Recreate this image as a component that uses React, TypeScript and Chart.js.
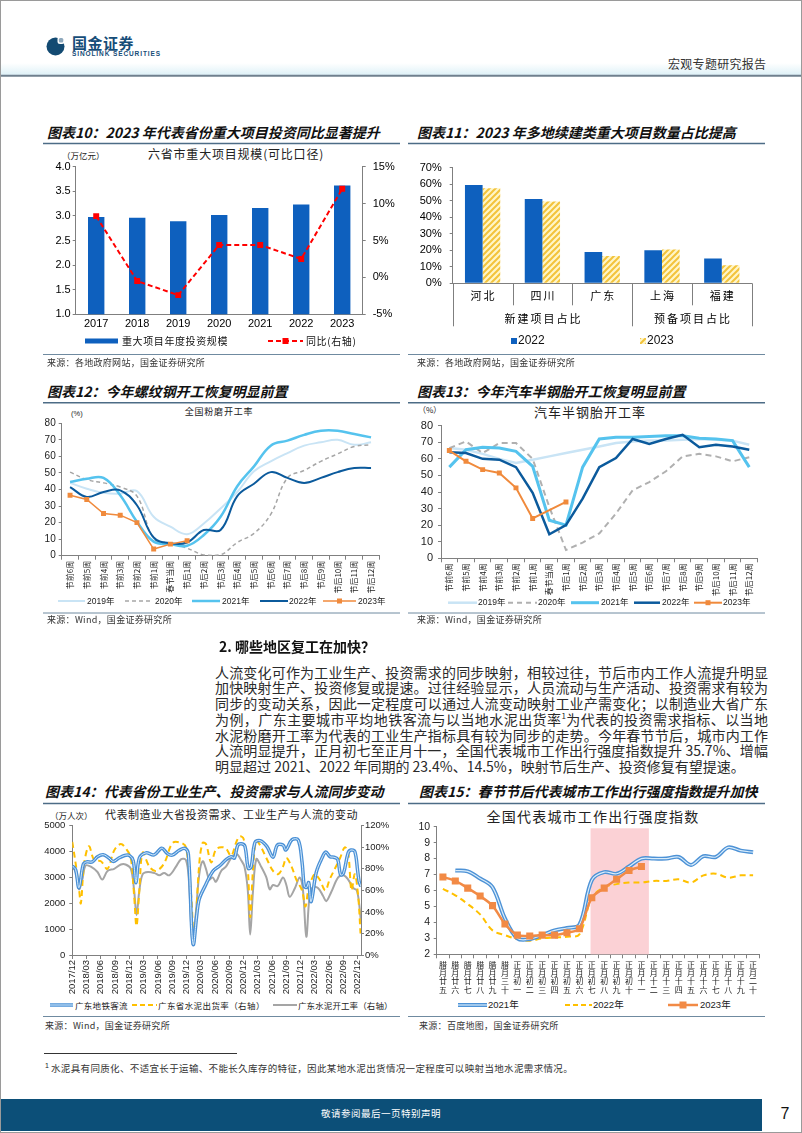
import React, { useEffect, useRef } from 'react';
import { Chart, registerables } from 'chart.js';

Chart.register(...registerables);

const CJK = '"Noto Sans CJK SC", "Noto Sans", sans-serif';
const LAT = '"Liberation Sans", Arial, "Noto Sans CJK SC", sans-serif';

// ---------------- Chart 10 data ----------------
const c10Years = ['2017', '2018', '2019', '2020', '2021', '2022', '2023'];
const c10Scale = [2.98, 2.96, 2.89, 3.02, 3.16, 3.23, 3.62];
const c10Yoy = [8.3, -0.5, -2.4, 4.4, 4.4, 2.5, 12.0];

// ---------------- Chart 11 data ----------------
const c11Regions = ['河北', '四川', '广东', '上海', '福建'];
const c11Groups = ['新建项目占比', '预备项目占比'];
const c11GroupSizes = [3, 2];
const c11Y2022 = [59.5, 51, 19, 20, 15];
const c11Y2023 = [57.5, 49.5, 16.5, 20.5, 11];

// ---------------- Chart 12 / 13 data ----------------
const weekLabels = ['节前6周', '节前5周', '节前4周', '节前3周', '节前2周', '节前1周', '春节当周', '节后1周', '节后2周', '节后3周', '节后4周', '节后5周', '节后6周', '节后7周', '节后8周', '节后9周', '节后10周', '节后11周', '节后12周'];
const c12_2019 = [44, 40.5, 38, 37.5, 39, 23.5, 17.5, 13, 19.5, 28.5, 38.5, 51, 57, 62, 66.5, 68.5, 70, 67, 68.5];
const c12_2020 = [50.5, 46, 44, 41.5, 36, 10.5, 7.5, 4.5, 0.5, 0.5, 8, 13.5, 25, 47, 51.5, 57, 61.5, 66, 67];
const c12_2021 = [44.5, 46.5, 47, 36.5, 20.5, 8.5, 7, 6, 12.5, 23.5, 42, 54, 66.5, 69.5, 73, 75.5, 75.5, 73.5, 71.5];
const c12_2022 = [41.5, 35.5, 38.5, 39.5, 30.5, 11, 7.5, 8, 15.5, 15.5, 36, 43.5, 50.5, 47, 44, 47, 50.5, 53, 53];
const c12_2023 = [36.5, 34, 25.5, 24.5, 20, 4, 7, 9];

const c13_2019 = [66.5, 65.5, 63, 60, 57.5, 59.5, 61.5, 63.5, 65.5, 67.5, 69.5, 70.5, 71, 71, 71.5, 72, 71.5, 71, 68.5];
const c13_2020 = [66.5, 70.5, 63.5, 69.5, 69.5, 60, 31, 5, 9.5, 15, 27, 41, 46, 52.5, 61.5, 63, 61.5, 58.5, 61];
const c13_2021 = [55, 65.5, 67, 66.5, 64.5, 55.5, 23, 20, 55, 72, 73, 73, 73.5, 74, 74, 72.5, 72, 71, 55];
const c13_2022 = [64, 63.5, 60, 59.5, 55, 39.5, 14.5, 20, 36, 55, 60.5, 72, 69, 72, 74.5, 67, 68.5, 67.5, 65.5];
const c13_2023 = [65, 58.5, 53.5, 51.5, 42.5, 24, null, 34];

// ---------------- Chart 14 data (x = months since 2017/12) ----------------
const c14TickMonths = [0, 3, 6, 9, 12, 15, 18, 21, 24, 27, 30, 33, 36, 39, 42, 45, 48, 51, 54, 57, 60];
const metroM = [0, 0.7, 1.4, 2.3, 3, 4.2, 5.3, 6.5, 7.7, 8.6, 9.8, 11, 12, 12.8, 13.4, 14.1, 15.5, 17.2, 18.8, 20, 21, 22.5, 23.7, 24.4, 25.4, 26.6, 28, 29.6, 31, 32.4, 33.4, 34.1, 34.8, 35.6, 36.3, 37, 37.6, 38.4, 39.5, 40.9, 42.2, 43.1, 44.3, 44.9, 46.2, 47.5, 48.3, 48.8, 49.3, 49.7, 50.2, 51.3, 52.5, 53.3, 54.2, 55, 55.8, 56.4, 57, 58, 58.6, 59.4, 60, 60.3, 60.7];
const metroV = [3450, 3300, 2600, 3500, 3600, 3600, 3800, 3880, 3750, 3620, 3750, 3850, 3850, 3650, 2800, 3750, 3950, 3870, 4130, 3920, 3860, 4050, 4120, 3900, 420, 2100, 2700, 3250, 3450, 3700, 3800, 3750, 4250, 4300, 4200, 3350, 3400, 4350, 4420, 4200, 3780, 4250, 4250, 4060, 4460, 4450, 3600, 2650, 2620, 2800, 2060, 3200, 3750, 3980, 3800, 3780, 3700, 3100, 3150, 3950, 4060, 4000, 3250, 2850, 2650];
const shipM = [0, 0.7, 1.4, 1.8, 2.5, 3.5, 4.6, 6, 7.4, 8.8, 10.2, 11.4, 12.3, 13, 13.5, 14.1, 14.8, 16.2, 17.6, 19.3, 21.1, 22.9, 23.9, 25, 25.6, 26.7, 27.4, 28.1, 29.2, 30.2, 31.3, 32.3, 33.4, 34.5, 35.2, 36, 36.9, 37.4, 38, 38.7, 39.7, 40.8, 42.2, 43.3, 44.3, 45, 46.1, 47.1, 48.3, 49, 49.6, 50.3, 51, 52, 53.2, 54.1, 55.2, 56.3, 57.3, 58, 58.7, 59.4, 60.1, 60.6];
const shipV = [105, 85, 62, 48, 85, 101, 88, 87, 80, 97, 103, 98, 90, 55, 27, 60, 95, 82, 78, 85, 104, 104, 100, 55, 12, 85, 104, 103, 86, 98, 100, 99, 92, 105, 110, 108, 80, 35, 80, 106, 100, 90, 78, 75, 82, 90, 82, 70, 60, 45, 60, 70, 75, 70, 60, 70, 80, 90, 100, 95, 60, 75, 55, 20];
const rateM = [0, 0.7, 1.4, 2.1, 2.8, 3.9, 5.3, 6.3, 7.4, 8.8, 10.2, 11.2, 12.3, 13, 13.5, 14.1, 14.8, 15.9, 17.3, 18.3, 19.3, 20.4, 21.8, 22.9, 23.9, 24.5, 25.3, 26, 26.7, 27.4, 28.1, 28.8, 29.5, 30.2, 31.3, 32.3, 33.4, 34.5, 35.5, 36.2, 36.9, 37.4, 38, 38.7, 39.7, 40.8, 41.5, 42.2, 43.2, 44.3, 45, 45.7, 46.8, 47.8, 48.5, 49.2, 49.9, 50.6, 51.7, 52.7, 53.4, 54.4, 55.9, 57, 58, 59.1, 59.8, 60.3, 60.7];
const rateV = [82, 77, 61, 70, 83, 82, 77, 70, 78, 80, 84, 84, 80, 60, 37, 60, 75, 77, 76, 74, 76, 74, 82, 89, 88, 70, 10, 40, 75, 87, 80, 70, 72, 68, 78, 82, 90, 94, 88, 82, 60, 19, 60, 89, 82, 72, 61, 65, 64, 72, 65, 54, 62, 72, 60, 17, 55, 63, 62, 55, 50, 58, 72, 74, 70, 62, 60, 48, 30];

// ---------------- Chart 15 data ----------------
const lunarDays = ['腊月廿五', '腊月廿六', '腊月廿七', '腊月廿八', '腊月廿九', '腊月三十', '正月初一', '正月初二', '正月初三', '正月初四', '正月初五', '正月初六', '正月初七', '正月初八', '正月初九', '正月初十', '正月十一', '正月十二', '正月十三', '正月十四', '正月十五', '正月十六', '正月十七', '正月十八', '正月十九', '正月二十'];
const c15_2021 = [null, 7.25, 7.2, 6.75, 6.2, 4.25, 3.0, 2.95, 3.2, 3.5, 3.65, 3.85, 6.65, 7.15, 7.05, 7.5, 8.0, 8.0, 8.0, 8.1, 7.6, 8.15, 8.1, 8.7, 8.5, 8.4];
const c15_2022 = [6.1, 5.7, 5.15, 4.5, 3.5, 3.2, 2.95, 2.85, 3.0, 3.05, 3.1, 3.25, 5.55, 6.2, 6.4, 6.5, 6.5, 6.6, 6.6, 6.7, 6.5, 6.95, 7.05, 6.8, 6.95, 6.95];
const c15_2023 = [6.85, 6.6, 6.15, 5.65, 5.05, 3.9, 3.2, 3.15, 3.2, 3.2, 3.35, 3.6, 5.55, 6.15, 6.7, 7.25, 7.5];
const c15BandRange = [11.9, 16.6];

// ---------------- helpers ----------------
const fixW = (w: number) => (s: any) => { s.width = w; };
const fixH = (h: number) => (s: any) => { s.height = h; };

const base = (padding: any) => ({
  responsive: false,
  animation: false,
  devicePixelRatio: 1,
  events: [],
  layout: { padding },
  plugins: { legend: { display: false }, tooltip: { enabled: false }, title: { display: false } },
});

const axisGrid = (color = '#808080', tickLength = 3, offset = false) => ({
  display: true, drawOnChartArea: false, tickLength, color, offset,
});

function ChartBox({ x, y, w, h, make }: { x: number; y: number; w: number; h: number; make: () => any }) {
  const ref = useRef<HTMLCanvasElement | null>(null);
  useEffect(() => {
    if (!ref.current) return;
    const chart = new Chart(ref.current, make());
    return () => chart.destroy();
  }, []);
  return (
    <div style={{ position: 'absolute', left: x, top: y, width: w, height: h }}>
      <canvas ref={ref} width={w} height={h} style={{ width: w, height: h, display: 'block' }} />
    </div>
  );
}

// ---------------- chart configs ----------------
function makeC10() {
  return {
    type: 'bar',
    data: {
      labels: c10Years,
      datasets: [
        {
          type: 'line', label: '同比(右轴)', data: c10Yoy, yAxisID: 'y1', borderColor: '#ff0000', backgroundColor: '#ff0000',
          borderWidth: 2, borderDash: [5, 3], pointStyle: 'rect', pointRadius: 4.2, pointBorderWidth: 0, tension: 0, order: 0,
        },
        {
          type: 'bar', label: '重大项目年度投资规模', data: c10Scale, yAxisID: 'y', backgroundColor: '#0e60be',
          barPercentage: 0.4, categoryPercentage: 1, order: 1,
        },
      ],
    },
    options: {
      ...base({ top: 16.7 }),
      scales: {
        x: {
          grid: { display: false, drawTicks: false, tickLength: 0 }, border: { color: '#7f7f7f' },
          ticks: { font: { family: LAT, size: 11 }, color: '#000', padding: 3 }, afterFit: fixH(20.7),
        },
        y: {
          position: 'left', min: 1, max: 4,
          ticks: { stepSize: 0.5, callback: (v: any) => Number(v).toFixed(1), font: { family: LAT, size: 11 }, color: '#000', padding: 2 },
          grid: axisGrid('#7f7f7f'), border: { color: '#7f7f7f' }, afterFit: fixW(32.7),
        },
        y1: {
          position: 'right', min: -5, max: 15,
          ticks: { stepSize: 5, callback: (v: any) => v + '%', font: { family: LAT, size: 11 }, color: '#000', padding: 7 },
          grid: axisGrid('#7f7f7f'), border: { color: '#7f7f7f' }, afterFit: fixW(37.3),
        },
      },
    },
  };
}

function makeHatch() {
  const c = document.createElement('canvas');
  c.width = 6; c.height = 6;
  const g = c.getContext('2d')!;
  g.fillStyle = '#fff6c8';
  g.fillRect(0, 0, 6, 6);
  g.strokeStyle = '#f3c33b';
  g.lineWidth = 2;
  g.beginPath();
  g.moveTo(0, 6); g.lineTo(6, 0);
  g.moveTo(-1, 1); g.lineTo(1, -1);
  g.moveTo(5, 7); g.lineTo(7, 5);
  g.stroke();
  return g.createPattern(c, 'repeat');
}

const c11AxisPlugin = {
  id: 'c11Axis',
  afterDraw(chart: any) {
    const { ctx, chartArea: a } = chart;
    const xs = chart.scales.x;
    const n = c11Regions.length;
    const w = (a.right - a.left) / n;
    const groupEdges = [0];
    c11GroupSizes.forEach((s) => groupEdges.push(groupEdges[groupEdges.length - 1] + s));
    ctx.save();
    ctx.strokeStyle = '#7f7f7f';
    ctx.lineWidth = 1;
    for (let i = 0; i <= n; i++) {
      const x = Math.round(a.left + i * w) + 0.5;
      const long = groupEdges.includes(i);
      ctx.beginPath();
      ctx.moveTo(x, a.bottom);
      ctx.lineTo(x, a.bottom + (long ? 43 : 22));
      ctx.stroke();
    }
    ctx.fillStyle = '#000';
    ctx.textAlign = 'center';
    ctx.textBaseline = 'middle';
    ctx.font = `11px ${CJK}`;
    try { (ctx as any).letterSpacing = '2px'; } catch (e) { /* ignore */ }
    c11Regions.forEach((r, i) => ctx.fillText(r, xs.getPixelForValue(i) + 1, a.bottom + 12.5));
    c11Groups.forEach((gname, gi) => {
      const mid = (groupEdges[gi] + groupEdges[gi + 1]) / 2;
      ctx.fillText(gname, a.left + mid * w + 1, a.bottom + 36);
    });
    ctx.restore();
  },
};

function makeC11() {
  return {
    type: 'bar',
    data: {
      labels: c11Regions,
      datasets: [
        { label: '2022', data: c11Y2022, backgroundColor: '#0e60be', categoryPercentage: 0.59, barPercentage: 1 },
        { label: '2023', data: c11Y2023, backgroundColor: makeHatch(), categoryPercentage: 0.59, barPercentage: 1 },
      ],
    },
    options: {
      ...base({ top: 17.7, right: 13.3, bottom: 48.7 }),
      scales: {
        x: { grid: { display: false, drawTicks: false }, border: { color: '#7f7f7f' }, ticks: { display: false }, afterFit: fixH(0) },
        y: {
          min: 0, max: 70,
          ticks: { stepSize: 10, callback: (v: any) => v + '%', font: { family: LAT, size: 11 }, color: '#000', padding: 8 },
          grid: axisGrid('#7f7f7f'), border: { color: '#7f7f7f' }, afterFit: fixW(44.7),
        },
      },
    },
    plugins: [c11AxisPlugin],
  };
}

const mkLine = (label: string, data: any[], color: string, width: number, extra: any = {}) => ({
  label, data, borderColor: color, backgroundColor: color, borderWidth: width, pointRadius: 0, tension: 0.4, ...extra,
});

function weekScales(yWidth: number, xHeight: number, yFont: number, yPad: number) {
  return {
    x: {
      offset: true,
      grid: axisGrid('#808080', 4, true), border: { color: '#808080' },
      ticks: { autoSkip: false, minRotation: 90, maxRotation: 90, font: { family: CJK, size: 8 }, color: '#222', padding: 1 },
      afterFit: fixH(xHeight),
    },
    y: {
      min: 0, max: 80,
      ticks: { stepSize: 10, font: { family: LAT, size: yFont }, color: '#222', padding: yPad },
      grid: axisGrid('#808080'), border: { color: '#808080' }, afterFit: fixW(yWidth),
    },
  };
}

function makeC12() {
  return {
    type: 'line',
    data: {
      labels: weekLabels,
      datasets: [
        mkLine('2023年', c12_2023, '#f08a3c', 1.5, { pointRadius: 3.5, pointStyle: 'rect', pointBorderWidth: 0, tension: 0, order: 0 }),
        mkLine('2022年', c12_2022, '#0b5a9c', 2, { order: 1 }),
        mkLine('2021年', c12_2021, '#55c3ee', 2.5, { order: 2 }),
        mkLine('2020年', c12_2020, '#a6a6a6', 1.5, { borderDash: [4, 3], order: 3 }),
        mkLine('2019年', c12_2019, '#c9e4f5', 2, { order: 4 }),
      ],
    },
    options: { ...base({ top: 13.3, right: 20.6 }), scales: weekScales(18.7, 44.3, 10, 3) },
  };
}

function makeC13() {
  return {
    type: 'line',
    data: {
      labels: weekLabels,
      datasets: [
        mkLine('2023年', c13_2023, '#f08a3c', 2, { pointRadius: 3.5, pointStyle: 'rect', pointBorderWidth: 0, tension: 0, spanGaps: true, order: 0 }),
        mkLine('2022年', c13_2022, '#0b5a9c', 2.5, { tension: 0, order: 1 }),
        mkLine('2021年', c13_2021, '#55c3ee', 3, { tension: 0, order: 2 }),
        mkLine('2020年', c13_2020, '#b0b0b0', 2, { borderDash: [6, 4], tension: 0, order: 3 }),
        mkLine('2019年', c13_2019, '#c9e4f5', 2.5, { tension: 0, order: 4 }),
      ],
    },
    options: { ...base({ top: 15.7, right: 7.4 }), scales: weekScales(33, 41.7, 11, 5) },
  };
}

const monthLabel = (m: number) => {
  const t = 11 + Math.round(m);
  const yr = 2017 + Math.floor(t / 12);
  const mo = (t % 12) + 1;
  return `${yr}/${mo < 10 ? '0' + mo : mo}`;
};

function makeC14() {
  const pts = (xs: number[], ys: number[]) => xs.map((x, i) => ({ x, y: ys[i] }));
  return {
    type: 'line',
    data: {
      datasets: [
        mkLine('广东地铁客流-inner', pts(metroM, metroV), '#d8ecfb', 1, { yAxisID: 'y', tension: 0.35, order: 0 }),
        mkLine('广东地铁客流', pts(metroM, metroV), '#4a90d6', 3.5, { yAxisID: 'y', tension: 0.35, order: 1 }),
        mkLine('广东省水泥出货率（右轴）', pts(shipM, shipV), '#ffc000', 2, { yAxisID: 'y1', borderDash: [6, 4], tension: 0.35, order: 2 }),
        mkLine('广东水泥开工率（右轴）', pts(rateM, rateV), '#a5a5a5', 2, { yAxisID: 'y1', tension: 0.35, order: 3 }),
      ],
    },
    options: {
      ...base({ top: 10.7 }),
      scales: {
        x: {
          type: 'linear', min: 0, max: 60.7,
          afterBuildTicks: (s: any) => { s.ticks = c14TickMonths.map((v) => ({ value: v })); },
          ticks: { autoSkip: false, minRotation: 90, maxRotation: 90, callback: (v: any) => monthLabel(Number(v)), font: { family: LAT, size: 9.5 }, color: '#222', padding: 1 },
          grid: axisGrid('#808080', 4), border: { color: '#808080' }, afterFit: fixH(40),
        },
        y: {
          position: 'left', min: 0, max: 5000,
          ticks: { stepSize: 500, callback: (v: any) => String(v), font: { family: LAT, size: 9.5 }, color: '#222', padding: 4 },
          grid: axisGrid('#808080'), border: { color: '#808080' }, afterFit: fixW(29.3),
        },
        y1: {
          position: 'right', min: 0, max: 120,
          ticks: { stepSize: 20, callback: (v: any) => v + '%', font: { family: LAT, size: 9.5 }, color: '#222', padding: 1 },
          grid: axisGrid('#808080'), border: { color: '#808080' }, afterFit: fixW(39),
        },
      },
    },
  };
}

const c15BandPlugin = {
  id: 'c15Band',
  beforeDatasetsDraw(chart: any) {
    const { ctx, chartArea: a, scales } = chart;
    const x0 = scales.x.getPixelForValue(c15BandRange[0]);
    const x1 = scales.x.getPixelForValue(c15BandRange[1]);
    const top = scales.y.getPixelForValue(9.9);
    ctx.save();
    ctx.fillStyle = '#fbd1d5';
    ctx.fillRect(x0, top, x1 - x0, a.bottom - top);
    ctx.restore();
  },
};

function makeC15() {
  return {
    type: 'line',
    data: {
      labels: lunarDays.map((s) => s.split('')),
      datasets: [
        mkLine('2023年', c15_2023, '#f28a45', 2.5, { pointRadius: 5, pointStyle: 'rect', pointBorderWidth: 0, tension: 0.3, order: 0 }),
        mkLine('2021年-inner', c15_2021, '#d8ecfb', 1.2, { tension: 0.35, order: 1 }),
        mkLine('2021年', c15_2021, '#4d92d6', 4, { tension: 0.35, order: 2 }),
        mkLine('2022年', c15_2022, '#ffc000', 2, { borderDash: [6, 4], tension: 0.35, order: 3 }),
      ],
    },
    options: {
      ...base({ top: 11.7, right: 5.7 }),
      scales: {
        x: {
          offset: true,
          grid: axisGrid('#808080', 4, true), border: { color: '#808080' },
          ticks: { autoSkip: false, minRotation: 0, maxRotation: 0, font: { family: CJK, size: 8, lineHeight: 1.05 }, color: '#222', padding: 2 },
          afterFit: fixH(42.7),
        },
        y: {
          min: 2, max: 10,
          ticks: { stepSize: 1, font: { family: LAT, size: 10.5 }, color: '#222', padding: 3.5 },
          grid: axisGrid('#808080'), border: { color: '#808080' }, afterFit: fixW(28.7),
        },
      },
    },
    plugins: [c15BandPlugin],
  };
}

// ---------------- page text helpers ----------------
function Txt({ x, y, size, children, family = CJK, weight = 400, italic = false, color = '#000', ls = 0, anchor = 'left' }: any) {
  const style: React.CSSProperties = {
    position: 'absolute', top: y - size * 0.64, fontSize: size, lineHeight: `${size * 1.2}px`, fontFamily: family,
    fontWeight: weight, fontStyle: italic ? 'italic' : 'normal', color, letterSpacing: ls, whiteSpace: 'nowrap',
  };
  if (anchor === 'center') { style.left = x; style.transform = 'translateX(-50%)'; }
  else style.left = x;
  return <div style={style}>{children}</div>;
}

const Title = ({ x, y, children }: any) => <Txt x={x} y={y} size={14} weight={700} italic color="#111">{children}</Txt>;
const Src = ({ x, y, children }: any) => <Txt x={x} y={y} size={9} color="#333" ls={0.3}>{children}</Txt>;

const paraLines: any[] = [
  '人流变化可作为工业生产、投资需求的同步映射，相较过往，节后市内工作人流提升明显',
  '加快映射生产、投资修复或提速。过往经验显示，人员流动与生产活动、投资需求有较为',
  '同步的变动关系，因此一定程度可以通过人流变动映射工业产需变化；以制造业大省广东',
  <>为例，广东主要城市平均地铁客流与以当地水泥出货率<sup style={{ fontSize: 8, lineHeight: 0 }}>1</sup>为代表的投资需求指标、以当地</>,
  '水泥粉磨开工率为代表的工业生产指标具有较为同步的走势。今年春节节后，城市内工作',
  '人流明显提升，正月初七至正月十一，全国代表城市工作出行强度指数提升 35.7%、增幅',
  '明显超过 2021、2022 年同期的 23.4%、14.5%，映射节后生产、投资修复有望提速。',
];

function Decor() {
  const ul = '#4d6c86';
  const sep = '#6f8aa0';
  const legY12 = 601;
  const legY13 = 602.7;
  const legY14 = 1005;
  return (
    <svg width={802} height={1133} style={{ position: 'absolute', left: 0, top: 0 }}>
      <defs>
        <linearGradient id="hb" x1="0" y1="0" x2="0" y2="1">
          <stop offset="0" stopColor="#ffffff" />
          <stop offset="1" stopColor="#def1f7" />
        </linearGradient>
        <pattern id="hatch" width="6" height="6" patternUnits="userSpaceOnUse">
          <rect width="6" height="6" fill="#fff6c8" />
          <path d="M0,6 L6,0 M-1,1 L1,-1 M5,7 L7,5" stroke="#f3c33b" strokeWidth="2" />
        </pattern>
      </defs>
      <rect x="0.5" y="0.5" width="801" height="1132" fill="none" stroke="#9a9a9a" />
      {/* header */}
      <rect x="1" y="63" width="800" height="12" fill="url(#hb)" />
      <line x1="1" y1="75.8" x2="801" y2="75.8" stroke="#6f808e" strokeWidth="2" />
      <circle cx="55.5" cy="46.5" r="9" fill="#134a72" />
      <rect x="57.5" y="36.5" width="7" height="7.5" rx="2.5" fill="#ffffff" />
      <rect x="58.8" y="38" width="4.5" height="4.5" rx="1.5" fill="#8fa9bd" />
      {/* title underlines */}
      {[143.5, 402.7, 803.5].map((y) => (
        <g key={y}>
          <line x1="43" y1={y} x2="400" y2={y} stroke={ul} strokeWidth="1.5" />
          <line x1="408" y1={y} x2="765" y2={y} stroke={ul} strokeWidth="1.5" />
        </g>
      ))}
      {[354.5, 613, 1016.5].map((y) => (
        <g key={y}>
          <line x1="43" y1={y} x2="400" y2={y} stroke={sep} strokeWidth="1" />
          <line x1="408" y1={y} x2="765" y2={y} stroke={sep} strokeWidth="1" />
        </g>
      ))}
      {/* chart 10 legend */}
      <rect x="85" y="338.5" width="33" height="5" fill="#0e60be" />
      <line x1="268" y1="341" x2="303" y2="341" stroke="#ff0000" strokeWidth="2" strokeDasharray="5 3" />
      <rect x="282.5" y="338" width="6" height="6" fill="#ff0000" />
      {/* chart 11 legend */}
      <rect x="511" y="338" width="6" height="6" fill="#0e60be" />
      <rect x="640" y="338" width="6" height="6" fill="url(#hatch)" />
      {/* chart 12 legend */}
      <line x1="58" y1={legY12} x2="85" y2={legY12} stroke="#c9e4f5" strokeWidth="2" />
      <line x1="125" y1={legY12} x2="153" y2={legY12} stroke="#a6a6a6" strokeWidth="1.5" strokeDasharray="4 3" />
      <line x1="192" y1={legY12} x2="220" y2={legY12} stroke="#55c3ee" strokeWidth="2.5" />
      <line x1="260" y1={legY12} x2="288" y2={legY12} stroke="#0b5a9c" strokeWidth="2" />
      <line x1="323" y1={legY12} x2="356" y2={legY12} stroke="#f08a3c" strokeWidth="1.5" />
      <rect x="337" y={legY12 - 2.5} width="5" height="5" fill="#f08a3c" />
      {/* chart 13 legend */}
      <line x1="448" y1={legY13} x2="477" y2={legY13} stroke="#c9e4f5" strokeWidth="2.5" />
      <line x1="508" y1={legY13} x2="537" y2={legY13} stroke="#b0b0b0" strokeWidth="2" strokeDasharray="5 4" />
      <line x1="571" y1={legY13} x2="599" y2={legY13} stroke="#55c3ee" strokeWidth="3" />
      <line x1="634" y1={legY13} x2="660" y2={legY13} stroke="#0b5a9c" strokeWidth="2.5" />
      <line x1="694" y1={legY13} x2="722" y2={legY13} stroke="#f08a3c" strokeWidth="2" />
      <rect x="705.5" y={legY13 - 2.5} width="5" height="5" fill="#f08a3c" />
      {/* chart 14 legend */}
      <line x1="50" y1={legY14} x2="73" y2={legY14} stroke="#4a90d6" strokeWidth="3.5" />
      <line x1="50" y1={legY14} x2="73" y2={legY14} stroke="#d8ecfb" strokeWidth="1" />
      <line x1="132" y1={legY14} x2="157" y2={legY14} stroke="#ffc000" strokeWidth="2" strokeDasharray="5 3" />
      <line x1="273" y1={legY14} x2="297" y2={legY14} stroke="#a5a5a5" strokeWidth="2" />
      {/* chart 15 legend */}
      <line x1="458" y1={legY14} x2="487" y2={legY14} stroke="#4d92d6" strokeWidth="4" />
      <line x1="458" y1={legY14} x2="487" y2={legY14} stroke="#d8ecfb" strokeWidth="1.2" />
      <line x1="565" y1={legY14} x2="592" y2={legY14} stroke="#ffc000" strokeWidth="2" strokeDasharray="5 3" />
      <line x1="668" y1={legY14} x2="698" y2={legY14} stroke="#f28a45" strokeWidth="2.5" />
      <rect x="679.5" y={legY14 - 3.5} width="7" height="7" fill="#f28a45" />
      {/* footnote rule & footer */}
      <line x1="44" y1="1053.5" x2="237" y2="1053.5" stroke="#000" strokeWidth="0.8" />
      <rect x="1" y="1099" width="761" height="32" fill="#0c4f78" />
    </svg>
  );
}

export default function App() {
  return (
    <div style={{ position: 'absolute', left: 0, top: 0, width: 802, height: 1133, overflow: 'hidden', background: '#fff' }}>
      <Decor />

      {/* header */}
      <Txt x={72} y={43.5} size={15} weight={700} color="#164d78" ls={0.5}>国金证券</Txt>
      <Txt x={72} y={54.5} size={6.5} weight={700} color="#164d78" family={LAT} ls={0.9}>SINOLINK SECURITIES</Txt>
      <Txt x={668} y={65} size={12} color="#333" ls={0.3}>宏观专题研究报告</Txt>

      {/* chart 10 */}
      <Title x={47} y={133}>图表10：2023 年代表省份重大项目投资同比显著提升</Title>
      <Txt x={62} y={155} size={8.5} color="#222">（万亿元）</Txt>
      <Txt x={236} y={155} size={12} color="#222" ls={0.8} anchor="center">六省市重大项目规模(可比口径)</Txt>
      <ChartBox x={43} y={150} w={357} h={185} make={makeC10} />
      <Txt x={122} y={341} size={10} color="#111" ls={0.6}>重大项目年度投资规模</Txt>
      <Txt x={306} y={341} size={10} color="#111" ls={0.6}>同比(右轴)</Txt>
      <Src x={47} y={364}>来源：各地政府网站，国金证券研究所</Src>

      {/* chart 11 */}
      <Title x={417} y={133}>图表11：2023 年多地续建类重大项目数量占比提高</Title>
      <ChartBox x={408} y={150} w={357} h={182} make={makeC11} />
      <Txt x={518} y={341} size={12} color="#111" family={LAT}>2022</Txt>
      <Txt x={647} y={341} size={12} color="#111" family={LAT}>2023</Txt>
      <Src x={417} y={364}>来源：各地政府网站，国金证券研究所</Src>

      {/* chart 12 */}
      <Title x={47} y={392}>图表12：今年螺纹钢开工恢复明显前置</Title>
      <Txt x={71} y={414} size={7.5} color="#222" family={LAT}>(%)</Txt>
      <Txt x={219} y={413} size={9} color="#222" ls={0.8} anchor="center">全国粉磨开工率</Txt>
      <ChartBox x={43} y={410} w={357} h={190} make={makeC12} />
      <Txt x={87} y={601} size={8.5} color="#222" family={LAT}>2019年</Txt>
      <Txt x={155} y={601} size={8.5} color="#222" family={LAT}>2020年</Txt>
      <Txt x={222} y={601} size={8.5} color="#222" family={LAT}>2021年</Txt>
      <Txt x={289} y={601} size={8.5} color="#222" family={LAT}>2022年</Txt>
      <Txt x={358} y={601} size={8.5} color="#222" family={LAT}>2023年</Txt>
      <Src x={47} y={621}>来源：Wind，国金证券研究所</Src>

      {/* chart 13 */}
      <Title x={417} y={392}>图表13：今年汽车半钢胎开工恢复明显前置</Title>
      <Txt x={418} y={410} size={8} color="#222">（%）</Txt>
      <Txt x={590} y={412.7} size={13} color="#222" ls={1} anchor="center">汽车半钢胎开工率</Txt>
      <ChartBox x={408} y={410} w={357} h={190} make={makeC13} />
      <Txt x={478} y={602.7} size={8.5} color="#222" family={LAT}>2019年</Txt>
      <Txt x={538} y={602.7} size={8.5} color="#222" family={LAT}>2020年</Txt>
      <Txt x={601} y={602.7} size={8.5} color="#222" family={LAT}>2021年</Txt>
      <Txt x={662} y={602.7} size={8.5} color="#222" family={LAT}>2022年</Txt>
      <Txt x={723} y={602.7} size={8.5} color="#222" family={LAT}>2023年</Txt>
      <Src x={417} y={621}>来源：Wind，国金证券研究所</Src>

      {/* section text */}
      <Txt x={219} y={646.7} size={14} weight={700} color="#111">2. 哪些地区复工在加快？</Txt>
      {paraLines.map((ln, i) => (
        <div
          key={i}
          style={{
            position: 'absolute', left: 215, top: 672.7 + i * 15.7 - 14 * 0.64, width: 553, fontSize: 14, lineHeight: '16.8px',
            fontFamily: CJK, color: '#2a2a2a', textAlign: 'justify', textAlignLast: i < paraLines.length - 1 ? 'justify' : 'left',
            height: 17, overflow: 'hidden',
          }}
        >
          {ln}
        </div>
      ))}

      {/* chart 14 */}
      <Title x={45} y={792}>图表14：代表省份工业生产、投资需求与人流同步变动</Title>
      <Txt x={50} y={815} size={8.5} color="#222">（万人次）</Txt>
      <Txt x={105} y={815} size={11} color="#222" ls={0.5}>代表制造业大省投资需求、工业生产与人流的变动</Txt>
      <ChartBox x={43} y={815} w={357} h={180} make={makeC14} />
      <Txt x={75} y={1005} size={8.5} color="#222" ls={0.3}>广东地铁客流</Txt>
      <Txt x={158} y={1005} size={8.5} color="#222" ls={0.4}>广东省水泥出货率（右轴）</Txt>
      <Txt x={298} y={1005} size={8.5} color="#222" ls={0.1}>广东水泥开工率（右轴）</Txt>
      <Src x={45} y={1027}>来源：Wind，国金证券研究所</Src>

      {/* chart 15 */}
      <Title x={419} y={792}>图表15：春节节后代表城市工作出行强度指数提升加快</Title>
      <Txt x={593} y={816.7} size={14} color="#222" ls={1.2} anchor="center">全国代表城市工作出行强度指数</Txt>
      <ChartBox x={408} y={815} w={357} h={182} make={makeC15} />
      <Txt x={488} y={1005} size={9.5} color="#222" family={LAT}>2021年</Txt>
      <Txt x={593} y={1005} size={9.5} color="#222" family={LAT}>2022年</Txt>
      <Txt x={700} y={1005} size={9.5} color="#222" family={LAT}>2023年</Txt>
      <Src x={419} y={1027}>来源：百度地图，国金证券研究所</Src>

      {/* footnote */}
      <Txt x={45} y={1066} size={7} color="#222" family={LAT}>1</Txt>
      <Txt x={51} y={1069} size={9.5} color="#333" ls={0.35}>水泥具有同质化、不适宜长于运输、不能长久库存的特征，因此某地水泥出货情况一定程度可以映射当地水泥需求情况。</Txt>

      {/* footer */}
      <Txt x={381} y={1114} size={9.5} color="#ffffff" ls={0.5} anchor="center">敬请参阅最后一页特别声明</Txt>
      <Txt x={785} y={1114} size={16} color="#111" family={LAT} anchor="center">7</Txt>
    </div>
  );
}
